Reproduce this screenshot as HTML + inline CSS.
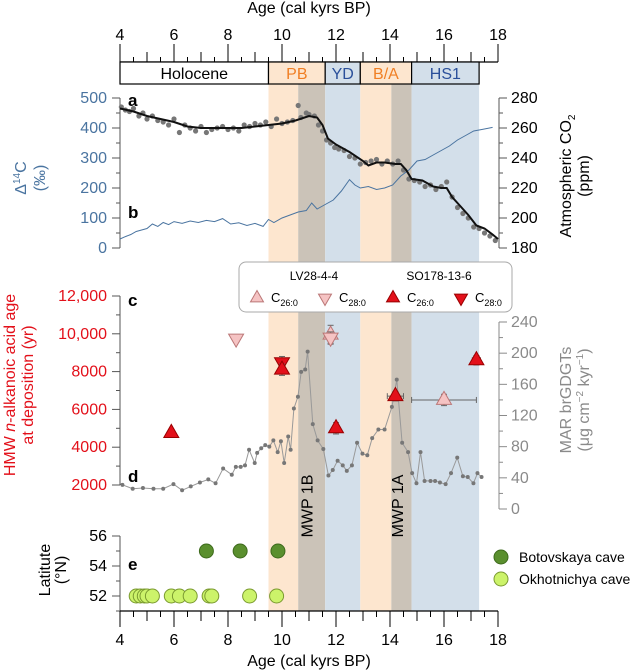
<!DOCTYPE html>
<html><head><meta charset="utf-8"><style>
body{margin:0;background:#fff}
svg{display:block;font-family:"Liberation Sans",sans-serif}
</style></head><body>
<svg id="c" width="635" height="671" viewBox="0 0 635 671" xmlns="http://www.w3.org/2000/svg"></svg>
<script>
const ageTicks=[4,6,8,10,12,14,16,18];
const bandStarts=[9.5,10.6,11.6,12.9,14.05,14.8];
const bandEnds=[10.6,11.6,12.9,14.05,14.8,17.3];
const bandColors=["#fde6cf","#cbc3b8","#d3dfea","#fde6cf","#cbc3b8","#d3dfea"];
const periodNames=["Holocene","PB","YD","B/A","HS1"];
const periodStart=[4,9.5,11.6,12.9,14.8];
const periodEnd=[9.5,11.6,12.9,14.8,17.3];
const periodColor=["#000","#f07f24","#2a4f9a","#f07f24","#2a4f9a"];
const periodFill=["#fff","#fde6cf","#d3dfea","#fde6cf","#d3dfea"];
const co2LineAge=[4,4.5,5,5.5,6,6.5,7,7.5,8,8.5,9,9.5,10,10.5,11,11.3,11.5,11.7,12,12.5,13,13.2,13.5,13.8,14.2,14.4,14.6,14.8,15.2,15.6,15.9,16.1,16.3,16.6,16.9,17.2,17.5,17.8,18];
const co2LineVal=[273,271,268,266,264,261,260,260,260,260,261,262,263,265,268,267,262,253,249,244,238,235,237,237,236,236,232,226,225,221,220,220,214,208,202,195,193,189,186];
const co2PtAge=[4.05,4.2,4.35,4.5,4.7,4.85,5.0,5.2,5.4,5.6,5.8,6.0,6.2,6.4,6.6,6.8,7.0,7.2,7.4,7.6,7.8,8.0,8.2,8.4,8.6,8.8,9.0,9.2,9.4,9.6,9.8,10.0,10.2,10.4,10.6,10.7,10.9,11.0,11.2,11.35,11.5,11.65,11.8,11.95,12.1,12.3,12.5,12.7,12.9,13.1,13.3,13.5,13.7,13.9,14.1,14.3,14.5,14.7,14.9,15.1,15.3,15.5,15.7,15.9,16.1,16.3,16.5,16.7,16.9,17.1,17.3,17.5,17.7,17.9];
const co2PtVal=[274,272,271,273,268,270,266,268,265,264,262,266,257,262,260,258,261,257,259,260,261,259,260,258,262,261,263,262,264,261,266,263,264,265,275,267,270,269,268,262,258,252,250,247,246,245,241,240,236,237,238,239,236,238,236,238,232,226,225,224,221,222,219,221,224,214,207,203,200,194,193,190,188,185];
const c14Age=[4,4.2,4.4,4.6,4.8,5,5.2,5.4,5.6,5.8,6,6.3,6.6,6.9,7.2,7.5,7.8,8.1,8.4,8.7,9,9.3,9.5,9.7,10,10.3,10.6,10.9,11.1,11.3,11.6,11.9,12.2,12.5,12.7,12.9,13.2,13.5,13.8,14.1,14.4,14.7,15,15.3,15.6,15.9,16.2,16.5,16.8,17.1,17.4,17.8];
const c14Val=[30,38,45,55,60,65,80,72,85,78,88,82,90,85,92,88,98,80,84,75,82,72,95,85,100,110,120,125,150,130,145,160,190,228,210,200,205,195,200,210,240,260,290,295,310,325,340,360,375,390,395,402];
const ageLabAge=[5.9,8.3,10.0,10.0,11.8,11.8,12.0,14.2,16.0,17.2];
const ageLabVal=[4750,9750,8500,8100,9950,9800,5000,6700,6500,8600];
const ageLabType=["so26","lv28","so28","so26","lv26","lv28","so26","so26","lv26","so26"];
const ageLabXerr=[0.05,0.1,0.1,0.1,0.1,0.1,0.08,0.3,1.2,0.15];
const ageLabYerr=[150,200,300,300,500,300,300,250,300,250];
const marAge=[4.09,4.47,4.85,5.24,5.60,5.98,6.30,6.62,6.96,7.27,7.54,7.82,8.14,8.29,8.47,8.63,8.78,8.99,9.08,9.23,9.38,9.53,9.68,9.84,9.96,10.08,10.23,10.32,10.44,10.59,10.71,10.86,10.95,11.14,11.32,11.53,11.72,11.88,12.06,12.25,12.40,12.59,12.78,12.98,13.16,13.34,13.57,13.80,14.07,14.25,14.45,14.67,14.82,14.98,15.13,15.28,15.50,15.67,15.85,16.06,16.26,16.49,16.70,16.88,17.09,17.24,17.39];
const marVal=[31,26,27,26,26,32,24,29,34,38,33,52,44,54,54,56,76,59,72,78,82,80,88,73,87,59,93,76,129,144,176,179,202,109,88,77,43,50,62,56,49,56,85,71,69,91,102,102,131,166,85,73,46,33,73,36,36,36,34,32,46,66,42,41,33,46,41];
const botAge=[7.2,8.45,9.85];
const botLat=[55,55,55];
const okhAge=[4.6,4.75,4.9,5.0,5.2,5.9,6.2,6.6,7.3,7.4,8.8,9.8];
const okhLat=[52,52,52,52,52,52,52,52,52,52,52,52];

const NS="http://www.w3.org/2000/svg";
const svg=document.getElementById('c');
function el(tag,attrs,parent,text){const e=document.createElementNS(NS,tag);for(const k in attrs)e.setAttribute(k,attrs[k]);if(text!==undefined)e.textContent=text;(parent||svg).appendChild(e);return e;}
const X=a=>120+(a-4)*27;
const Ya=v=>248-v*0.3;
const Yco2=c=>98+(280-c)*1.5;
const Yc=v=>485-(v-2000)*0.0189;
const Yd=v=>509-v*187/240;
const Ye=l=>596-(l-52)*15;
const BLUE="#4a74a0",RED="#e3101a",GRAY="#8a8a8a";
const FS=16;

for(let i=0;i<bandStarts.length;i++){
 const r=el('rect',{x:X(bandStarts[i]),y:84,width:X(bandEnds[i])-X(bandStarts[i]),height:611-84,fill:bandColors[i]});
 
 
}
el('line',{x1:X(4),x2:X(18),y1:62,y2:62,stroke:'#000','stroke-width':1.2});
for(let a=4;a<=18;a+=0.5){el('line',{x1:X(a),x2:X(a),y1:62,y2:a%2===0?44:(a%1===0?52:57),stroke:'#000'});}
ageTicks.forEach(a=>{const t=el('text',{x:X(a),y:40,'text-anchor':'middle','font-size':FS},svg,a);});
el('text',{x:X(11),y:13,'text-anchor':'middle','font-size':FS},svg,'Age (cal kyrs BP)');
for(let i=0;i<periodNames.length;i++){
 const r=el('rect',{x:X(periodStart[i]),y:62,width:X(periodEnd[i])-X(periodStart[i]),height:22,fill:periodFill[i],stroke:'#000','stroke-width':1.2});
 
 const t=el('text',{x:(X(periodStart[i])+X(periodEnd[i]))/2,y:79,'text-anchor':'middle','font-size':FS,fill:periodColor[i]},svg,periodNames[i]);
 
}
el('line',{x1:120,x2:120,y1:98,y2:248,stroke:'#555'});
for(let v=0;v<=500;v+=50){el('line',{x1:120,x2:v%100===0?112:116,y1:Ya(v),y2:Ya(v),stroke:'#555'});}
for(let v=0;v<=500;v+=100){el('text',{x:107,y:Ya(v)+5,'text-anchor':'end','font-size':FS,fill:BLUE},svg,v);}
el('line',{x1:499,x2:499,y1:98,y2:248,stroke:'#555'});
for(let c=180;c<=280;c+=10){el('line',{x1:499,x2:c%20===0?507:503,y1:Yco2(c),y2:Yco2(c),stroke:'#555'});}
for(let c=180;c<=280;c+=20){el('text',{x:511,y:Yco2(c)+5,'font-size':FS},svg,c);}
let t=el('text',{transform:'translate(26,178) rotate(-90)','text-anchor':'middle','font-size':FS,fill:BLUE});
el('tspan',{},t,'Δ');el('tspan',{'font-size':10,dy:-6},t,'14');el('tspan',{dy:6},t,'C');
el('text',{transform:'translate(45,178) rotate(-90)','text-anchor':'middle','font-size':FS,fill:BLUE},svg,'(‰)');
t=el('text',{transform:'translate(571,176) rotate(-90)','text-anchor':'middle','font-size':FS});
el('tspan',{},t,'Atmospheric CO');el('tspan',{'font-size':10,dy:4},t,'2');
el('text',{transform:'translate(589,176) rotate(-90)','text-anchor':'middle','font-size':FS},svg,'(ppm)');
let d=c14Age.map((a,i)=>(i?'L':'M')+X(a).toFixed(1)+','+Ya(c14Val[i]).toFixed(1)).join('');
let p=el('path',{d:d,fill:'none',stroke:BLUE,'stroke-width':1});
co2PtAge.forEach((a,i)=>{const c=el('circle',{cx:X(a),cy:Yco2(co2PtVal[i]),r:2.6,fill:'#777'});});
d=co2LineAge.map((a,i)=>(i?'L':'M')+X(a).toFixed(1)+','+Yco2(co2LineVal[i]).toFixed(1)).join('');
p=el('path',{d:d,fill:'none',stroke:'#111','stroke-width':2});
['a','b'].forEach((l,i)=>el('text',{x:128,y:[106,218][i],'font-size':17,'font-weight':'bold'},svg,l));

el('line',{x1:120,x2:120,y1:296,y2:485,stroke:'#555'});
for(let v=2000;v<=12000;v+=1000){el('line',{x1:120,x2:v%2000===0?112:116,y1:Yc(v),y2:Yc(v),stroke:'#555'});}
for(let v=2000;v<=12000;v+=2000){el('text',{x:107,y:Yc(v)+5,'text-anchor':'end','font-size':FS,fill:RED},svg,v===12000?'12,000':v===10000?'10,000':v);}
t=el('text',{transform:'translate(15,385) rotate(-90)','text-anchor':'middle','font-size':FS,fill:RED});
el('tspan',{},t,'HMW ');el('tspan',{'font-style':'italic'},t,'n');el('tspan',{},t,'-alkanoic acid age');
el('text',{transform:'translate(33,385) rotate(-90)','text-anchor':'middle','font-size':FS,fill:RED},svg,'at deposition (yr)');
el('line',{x1:499,x2:499,y1:322,y2:509,stroke:GRAY});
for(let v=0;v<=240;v+=20){el('line',{x1:499,x2:v%40===0?507:503,y1:Yd(v),y2:Yd(v),stroke:GRAY});}
for(let v=0;v<=240;v+=40){el('text',{x:511,y:Yd(v)+5,'font-size':FS,fill:GRAY},svg,v);}
el('text',{transform:'translate(571,400) rotate(-90)','text-anchor':'middle','font-size':FS,fill:GRAY},svg,'MAR brGDGTs');
t=el('text',{transform:'translate(589,400) rotate(-90)','text-anchor':'middle','font-size':FS,fill:GRAY});
el('tspan',{},t,'(μg cm');el('tspan',{'font-size':10,dy:-6},t,'−2');el('tspan',{dy:6},t,' kyr');el('tspan',{'font-size':10,dy:-6},t,'−1');el('tspan',{dy:6},t,')');
d=marAge.map((a,i)=>(i?'L':'M')+X(a).toFixed(1)+','+Yd(marVal[i]).toFixed(1)).join('');
el('path',{d:d,fill:'none',stroke:'#999','stroke-width':1});
marAge.forEach((a,i)=>{const c=el('circle',{cx:X(a),cy:Yd(marVal[i]),r:2,fill:'#777'});});
['c','d'].forEach((l,i)=>el('text',{x:128,y:[306,482][i],'font-size':17,'font-weight':'bold'},svg,l));
el('text',{transform:`translate(${X(10.9)+6},506) rotate(-90)`,'text-anchor':'middle','font-size':FS},svg,'MWP 1B');
el('text',{transform:`translate(${X(14.25)+6},506) rotate(-90)`,'text-anchor':'middle','font-size':FS},svg,'MWP 1A');
function tri(cx,cy,up,fill,stroke,s,parent){const h=s*0.87;const pts=up?`${cx},${cy-h*0.66} ${cx-s/2},${cy+h*0.34} ${cx+s/2},${cy+h*0.34}`:`${cx},${cy+h*0.66} ${cx-s/2},${cy-h*0.34} ${cx+s/2},${cy-h*0.34}`;return el('polygon',{points:pts,fill:fill,stroke:stroke,'stroke-width':1},parent);}
const styles={so26:[true,RED,'#900'],so28:[false,RED,'#900'],lv26:[true,'#f5c3c3','#b77'],lv28:[false,'#f5c3c3','#b77']};
ageLabAge.forEach((a,i)=>{
 const cx=X(a),cy=Yc(ageLabVal[i]);
 el('line',{x1:X(a-ageLabXerr[i]),x2:X(a+ageLabXerr[i]),y1:cy,y2:cy,stroke:'#666'});
 el('line',{x1:cx,x2:cx,y1:Yc(ageLabVal[i]-ageLabYerr[i]),y2:Yc(ageLabVal[i]+ageLabYerr[i]),stroke:'#666'});
 [-1,1].forEach(s=>{el('line',{x1:X(a+s*ageLabXerr[i]),x2:X(a+s*ageLabXerr[i]),y1:cy-3,y2:cy+3,stroke:'#666'});el('line',{x1:cx-3,x2:cx+3,y1:Yc(ageLabVal[i]+s*ageLabYerr[i]),y2:Yc(ageLabVal[i]+s*ageLabYerr[i]),stroke:'#666'});});
 const st=styles[ageLabType[i]];
 const m=tri(cx,cy,st[0],st[1],st[2],15);
 
 
});
const lg=el('g',{});
el('rect',{x:239,y:262,width:273,height:50,rx:7,fill:'#fff',stroke:'#aaa'},lg);
el('text',{x:314,y:280,'text-anchor':'middle','font-size':12},lg,'LV28-4-4');
el('text',{x:439,y:280,'text-anchor':'middle','font-size':12},lg,'SO178-13-6');
const lgX=[257,325,393,461],lgK=['lv26','lv28','so26','so28'],lgS=['26:0','28:0','26:0','28:0'];
lgX.forEach((x,i)=>{const st=styles[lgK[i]];tri(x,298,st[0],st[1],st[2],13,lg);
 const tt=el('text',{x:x+14,y:302,'font-size':13},lg);el('tspan',{},tt,'C');el('tspan',{'font-size':9,dy:4},tt,lgS[i]);});
el('line',{x1:120,x2:120,y1:536,y2:611,stroke:'#555'});
for(let l=51;l<=56;l+=1){el('line',{x1:120,x2:l%2===0?112:116,y1:Ye(l),y2:Ye(l),stroke:'#555'});}
[52,54,56].forEach(l=>el('text',{x:107,y:Ye(l)+5,'text-anchor':'end','font-size':FS},svg,l));
el('text',{transform:'translate(50,570) rotate(-90)','text-anchor':'middle','font-size':FS},svg,'Latitute');
el('text',{transform:'translate(66,570) rotate(-90)','text-anchor':'middle','font-size':FS},svg,'(°N)');
el('text',{x:128,y:570,'font-size':17,'font-weight':'bold'},svg,'e');
botAge.forEach((a,i)=>{const c=el('circle',{cx:X(a),cy:Ye(botLat[i]),r:7,fill:'#5a8f2e',stroke:'#3d6a1c'});});
okhAge.forEach((a,i)=>{const c=el('circle',{cx:X(a),cy:Ye(okhLat[i]),r:7,fill:'#ccf36a',stroke:'#7a9a30'});});
el('circle',{cx:501,cy:557,r:7,fill:'#5a8f2e',stroke:'#3d6a1c'});
el('text',{x:519,y:562,'font-size':14},svg,'Botovskaya cave');
el('circle',{cx:501,cy:579,r:7,fill:'#ccf36a',stroke:'#7a9a30'});
el('text',{x:519,y:584,'font-size':14},svg,'Okhotnichya cave');
el('line',{x1:X(4),x2:X(18),y1:611,y2:611,stroke:'#000','stroke-width':1.2});
for(let a=4;a<=18;a+=0.5){el('line',{x1:X(a),x2:X(a),y1:611,y2:a%2===0?627:(a%1===0?621:617),stroke:'#000'});}
ageTicks.forEach(a=>{const t=el('text',{x:X(a),y:645,'text-anchor':'middle','font-size':FS},svg,a);});
el('text',{x:X(11),y:666,'text-anchor':'middle','font-size':FS},svg,'Age (cal kyrs BP)');
</script>
</body></html>
